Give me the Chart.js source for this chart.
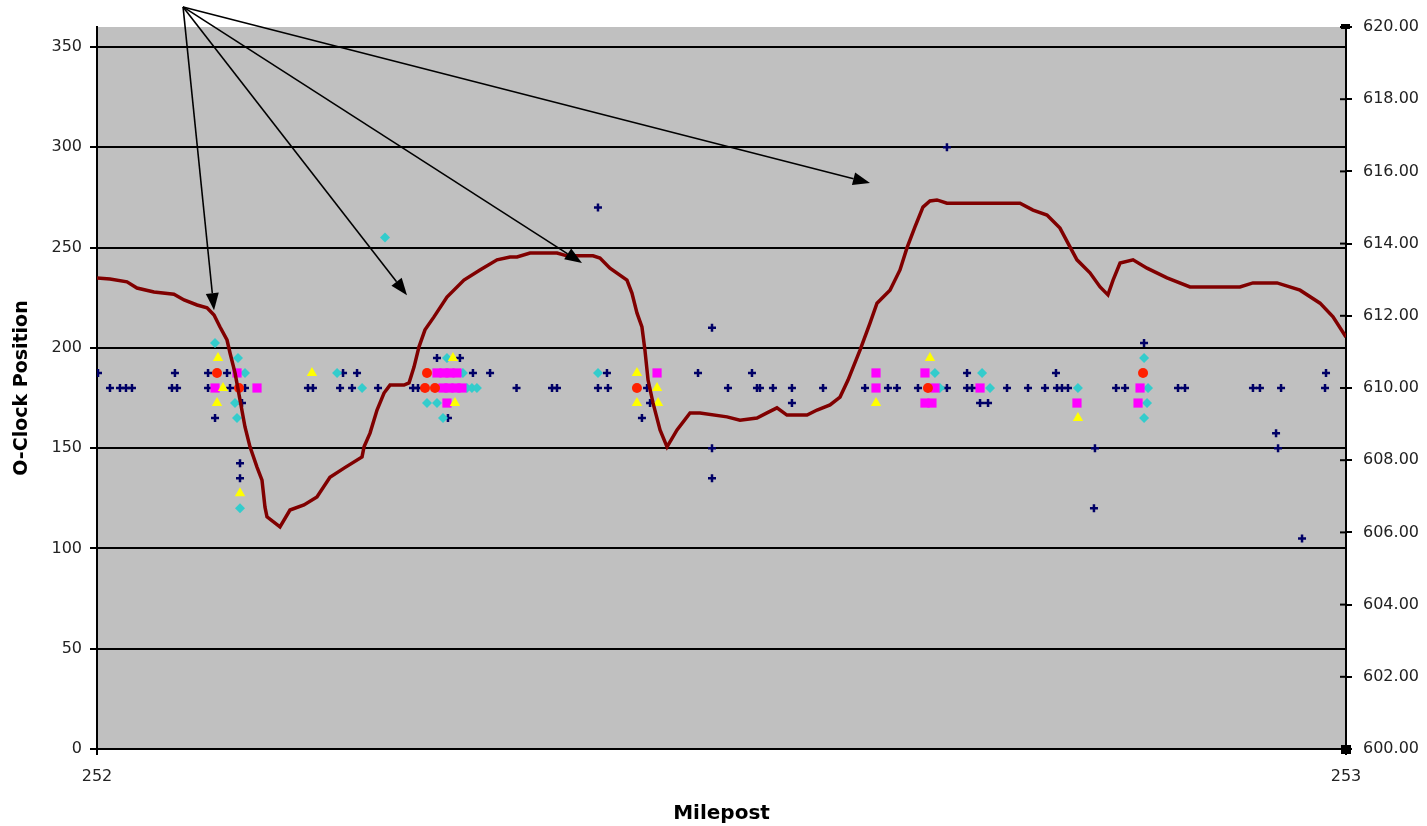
<!DOCTYPE html>
<html>
<head>
<meta charset="utf-8">
<script src="https://cdn.jsdelivr.net/npm/chart.js@4"></script>
<style>
  body { margin: 0; background: #fff; }
</style>
</head>
<body>
<canvas id="chart" width="1427" height="826"></canvas>
<script>
// Milepost vs o-clock position (left) and elevation profile (right)
const milepostTicks = [252, 253];
const clockTicks = [0, 50, 100, 150, 200, 250, 300, 350];
const elevTicks = [600, 602, 604, 606, 608, 610, 612, 614, 616, 618, 620];

// elevation profile (right axis)
const profileMile = [
    252.0000, 252.0104, 252.0240, 252.0320, 252.0456, 252.0616, 252.0697, 252.0801, 252.0881, 252.0937,
    252.0985, 252.1041, 252.1065, 252.1105, 252.1145, 252.1185, 252.1225, 252.1281, 252.1321, 252.1345,
    252.1361, 252.1465, 252.1545, 252.1657, 252.1761, 252.1865, 252.1978, 252.2122, 252.2138, 252.2186,
    252.2242, 252.2298, 252.2346, 252.2458, 252.2498, 252.2538, 252.2578, 252.2626, 252.2698, 252.2802,
    252.2938, 252.3066, 252.3203, 252.3307, 252.3363, 252.3467, 252.3683, 252.3763, 252.3971, 252.4027,
    252.4107, 252.4243, 252.4283, 252.4323, 252.4363, 252.4387, 252.4412, 252.4452, 252.4508, 252.4564,
    252.4644, 252.4748, 252.4828, 252.5044, 252.5148, 252.5284, 252.5364, 252.5444, 252.5524, 252.5685,
    252.5765, 252.5869, 252.5949, 252.6013, 252.6109, 252.6189, 252.6245, 252.6349, 252.6429, 252.6485,
    252.6549, 252.6613, 252.6669, 252.6725, 252.6805, 252.7390, 252.7494, 252.7606, 252.7710, 252.7790,
    252.7846, 252.7950, 252.8031, 252.8094, 252.8135, 252.8191, 252.8295, 252.8407, 252.8567, 252.8751,
    252.9151, 252.9255, 252.9448, 252.9632, 252.9792, 252.9896, 253.0000
];
const profileElev = [
    613.05, 613.02, 612.94, 612.77, 612.66, 612.60, 612.44, 612.30, 612.22, 612.02,
    611.69, 611.33, 610.97, 610.42, 609.67, 608.92, 608.37, 607.81, 607.45, 606.70,
    606.43, 606.15, 606.62, 606.76, 606.98, 607.53, 607.78, 608.09, 608.37, 608.75,
    609.39, 609.86, 610.08, 610.08, 610.14, 610.58, 611.14, 611.61, 611.97, 612.52,
    612.99, 613.27, 613.55, 613.63, 613.63, 613.74, 613.74, 613.66, 613.66, 613.60,
    613.32, 612.99, 612.63, 612.08, 611.69, 611.05, 610.22, 609.58, 608.84, 608.37,
    608.84, 609.31, 609.31, 609.20, 609.11, 609.17, 609.31, 609.45, 609.25, 609.25,
    609.39, 609.53, 609.75, 610.22, 611.05, 611.80, 612.35, 612.71, 613.27, 613.88,
    614.46, 615.01, 615.18, 615.21, 615.12, 615.12, 614.93, 614.79, 614.43, 613.91,
    613.55, 613.19, 612.80, 612.58, 612.99, 613.46, 613.55, 613.32, 613.05, 612.80,
    612.80, 612.91, 612.91, 612.71, 612.35, 611.97, 611.41
];

// anomaly series (left axis): [milepost, o-clock position]
const plusPoints = [
    [252.0008,187.5],[252.0624,187.5],[252.0889,187.5],[252.1041,187.5],[252.1970,187.5],[252.2082,187.5],
    [252.3010,187.5],[252.3147,187.5],[252.4083,187.5],[252.4812,187.5],[252.5244,187.5],[252.6966,187.5],
    [252.7678,187.5],[252.9840,187.5],
    [252.0104,180],[252.0184,180],[252.0232,180],[252.0280,180],[252.0600,180],[252.0641,180],[252.0889,180],
    [252.1065,180],[252.1145,180],[252.1185,180],[252.1689,180],[252.1729,180],[252.1946,180],[252.2042,180],
    [252.2250,180],[252.2530,180],[252.2570,180],[252.3359,180],[252.3643,180],[252.3683,180],[252.4011,180],
    [252.4091,180],[252.4404,180],[252.5052,180],[252.5284,180],[252.5308,180],[252.5412,180],[252.5564,180],
    [252.5813,180],[252.6149,180],[252.6333,180],[252.6405,180],[252.6573,180],[252.6805,180],[252.6966,180],
    [252.7006,180],[252.7286,180],[252.7454,180],[252.7590,180],[252.7686,180],[252.7726,180],[252.7774,180],
    [252.8159,180],[252.8231,180],[252.8655,180],[252.8711,180],[252.9255,180],[252.9311,180],[252.9480,180],
    [252.9832,180],
    [252.2722,195],[252.2906,195],[252.8383,202.5],
    [252.1161,172.5],[252.4428,172.5],[252.5564,172.5],[252.7070,172.5],[252.7134,172.5],
    [252.0945,165],[252.2810,165],[252.4363,165],
    [252.1145,142.5],[252.1145,135],[252.4924,210],[252.4924,150],[252.4924,135],[252.4011,270],
    [252.6805,300],[252.7990,150],[252.7982,120],[252.9440,157.5],[252.9456,150],[252.9648,105]
];
const diamondPoints = [
    [252.0945,202.5],[252.1129,195],[252.2802,195],[252.8383,195],
    [252.1185,187.5],[252.1922,187.5],[252.2930,187.5],[252.4011,187.5],[252.6709,187.5],[252.7086,187.5],
    [252.2122,180],[252.2962,180],[252.3002,180],[252.3042,180],[252.6749,180],[252.7150,180],[252.7854,180],
    [252.8415,180],
    [252.1105,172.5],[252.2642,172.5],[252.2722,172.5],[252.8407,172.5],
    [252.1121,165],[252.2770,165],[252.8383,165],
    [252.1145,120],[252.2306,255]
];
const squarePoints = [
    [252.1121,187.5],[252.2722,187.5],[252.2778,187.5],[252.2826,187.5],[252.2882,187.5],[252.4484,187.5],
    [252.6237,187.5],[252.6629,187.5],
    [252.0945,180],[252.1281,180],[252.2770,180],[252.2818,180],[252.2874,180],[252.2922,180],[252.6237,180],
    [252.6709,180],[252.7070,180],[252.8351,180],
    [252.2802,172.5],[252.6629,172.5],[252.6685,172.5],[252.7846,172.5],[252.8335,172.5]
];
const trianglePoints = [
    [252.0969,195],[252.2850,195],[252.6669,195],
    [252.1721,187.5],[252.4323,187.5],
    [252.1009,180],[252.4484,180],
    [252.0961,172.5],[252.2866,172.5],[252.4323,172.5],[252.4492,172.5],[252.6237,172.5],
    [252.7854,165],[252.1145,127.5]
];
const circlePoints = [
    [252.0961,187.5],[252.2642,187.5],[252.8375,187.5],
    [252.1137,180],[252.2626,180],[252.2706,180],[252.4323,180],[252.6653,180]
];

// callout arrows, in data units of the milepost / left axis
const arrowFrom = [252.0689, 370];
const arrowTips = [[252.0937, 218.8], [252.2482, 226.3], [252.3883, 242.3], [252.6189, 282.2]];

Chart.defaults.font.family = "'DejaVu Sans', Verdana, sans-serif";
Chart.defaults.font.size = 16;
Chart.defaults.color = '#222';

function toXY(list) {
    return list.map(p => ({ x: p[0], y: p[1] }));
}

const plotBackground = {
    id: 'plotBackground',
    beforeDraw(chart) {
        const { ctx, chartArea: a } = chart;
        ctx.save();
        ctx.fillStyle = '#c0c0c0';
        ctx.fillRect(a.left, a.top, a.right - a.left, a.bottom - a.top);
        ctx.restore();
    }
};

// right axis ticks cross the axis line
const crossTicks = {
    id: 'crossTicks',
    afterDraw(chart) {
        const { ctx } = chart;
        const s = chart.scales.y2;
        ctx.save();
        ctx.strokeStyle = '#000';
        ctx.lineWidth = 2;
        s.ticks.forEach(t => {
            const y = s.getPixelForValue(t.value);
            ctx.beginPath();
            ctx.moveTo(s.left - 6, y);
            ctx.lineTo(s.left, y);
            ctx.stroke();
        });
        // selection handles at the ends of the right axis
        ctx.fillStyle = '#000';
        const top = s.getPixelForValue(620), bot = s.getPixelForValue(600);
        ctx.fillRect(s.left - 5, top - 3, 9, 5);
        ctx.fillRect(s.left - 5, bot - 4, 4, 4);
        ctx.fillRect(s.left + 1, bot - 4, 4, 4);
        ctx.fillRect(s.left - 5, bot + 1, 4, 4);
        ctx.fillRect(s.left + 1, bot + 1, 4, 4);
        ctx.restore();
    }
};

const callouts = {
    id: 'callouts',
    afterDraw(chart) {
        const { ctx } = chart;
        const xs = chart.scales.x, ys = chart.scales.y;
        const x0 = xs.getPixelForValue(arrowFrom[0]);
        const y0 = ys.getPixelForValue(arrowFrom[1]);
        ctx.save();
        ctx.strokeStyle = '#000';
        ctx.fillStyle = '#000';
        ctx.lineWidth = 1.6;
        arrowTips.forEach(t => {
            const x1 = xs.getPixelForValue(t[0]);
            const y1 = ys.getPixelForValue(t[1]);
            const ang = Math.atan2(y1 - y0, x1 - x0);
            const len = 17, half = 6.5;
            const bx = x1 - len * Math.cos(ang), by = y1 - len * Math.sin(ang);
            ctx.beginPath();
            ctx.moveTo(x0, y0);
            ctx.lineTo(bx, by);
            ctx.stroke();
            ctx.beginPath();
            ctx.moveTo(x1, y1);
            ctx.lineTo(bx + half * Math.sin(ang), by - half * Math.cos(ang));
            ctx.lineTo(bx - half * Math.sin(ang), by + half * Math.cos(ang));
            ctx.closePath();
            ctx.fill();
        });
        ctx.restore();
    }
};

new Chart(document.getElementById('chart'), {
    type: 'scatter',
    data: {
        datasets: [
            {
                type: 'line',
                label: 'Elevation',
                data: profileMile.map((m, i) => ({ x: m, y: profileElev[i] })),
                yAxisID: 'y2',
                borderColor: '#800000',
                borderWidth: 3.5,
                pointRadius: 0,
                tension: 0,
                order: 0
            },
            {
                label: 'Red',
                data: toXY(circlePoints),
                pointStyle: 'circle',
                pointRadius: 5,
                backgroundColor: '#ff2000',
                borderColor: '#ff2000',
                borderWidth: 0,
                order: 1
            },
            {
                label: 'Yellow',
                data: toXY(trianglePoints),
                pointStyle: 'triangle',
                pointRadius: 6,
                backgroundColor: '#ffff00',
                borderColor: '#ffff00',
                borderWidth: 0,
                order: 2
            },
            {
                label: 'Magenta',
                data: toXY(squarePoints),
                pointStyle: 'rect',
                pointRadius: 6.5,
                backgroundColor: '#ff00ff',
                borderColor: '#ff00ff',
                borderWidth: 0,
                order: 3
            },
            {
                label: 'Cyan',
                data: toXY(diamondPoints),
                pointStyle: 'rectRot',
                pointRadius: 5,
                backgroundColor: '#33cccc',
                borderColor: '#33cccc',
                borderWidth: 0,
                order: 4
            },
            {
                label: 'Navy',
                data: toXY(plusPoints),
                pointStyle: 'cross',
                pointRadius: 4,
                borderColor: '#000066',
                borderWidth: 2.5,
                order: 5
            }
        ]
    },
    options: {
        responsive: false,
        animation: false,
        layout: { padding: { top: 27, left: 0, right: 0, bottom: 0 } },
        plugins: {
            legend: { display: false },
            tooltip: { enabled: false }
        },
        scales: {
            x: {
                type: 'linear',
                min: 252,
                max: 253,
                afterBuildTicks: s => { s.ticks = milepostTicks.map(v => ({ value: v })); },
                afterFit: s => { s.height = 77; },
                ticks: { padding: 12, maxRotation: 0 },
                grid: { drawOnChartArea: false, drawTicks: true, tickLength: 6, color: '#000', lineWidth: 2 },
                border: { display: true, color: '#000', width: 2 },
                title: {
                    display: true,
                    text: 'Milepost',
                    font: { size: 20, weight: 'bold' },
                    color: '#000',
                    padding: { top: 0, bottom: 0 }
                }
            },
            y: {
                position: 'left',
                min: 0,
                max: 360,
                afterBuildTicks: s => { s.ticks = clockTicks.map(v => ({ value: v })); },
                afterFit: s => { s.width = 97; },
                ticks: { padding: 8 },
                grid: { color: '#000', lineWidth: 2, drawTicks: true, tickLength: 7 },
                border: { display: true, color: '#000', width: 2 },
                title: {
                    display: true,
                    text: 'O-Clock Position',
                    font: { size: 19, weight: 'bold' },
                    color: '#000',
                    padding: { top: 11, bottom: 0 }
                }
            },
            y2: {
                position: 'right',
                min: 600,
                max: 620,
                afterBuildTicks: s => { s.ticks = elevTicks.map(v => ({ value: v })); },
                afterFit: s => { s.width = 81; },
                ticks: { padding: 11, callback: v => Number(v).toFixed(2) },
                grid: { drawOnChartArea: false, drawTicks: true, tickLength: 6, color: '#000', lineWidth: 2 },
                border: { display: true, color: '#000', width: 2 }
            }
        }
    },
    plugins: [plotBackground, crossTicks, callouts]
});
</script>
</body>
</html>
